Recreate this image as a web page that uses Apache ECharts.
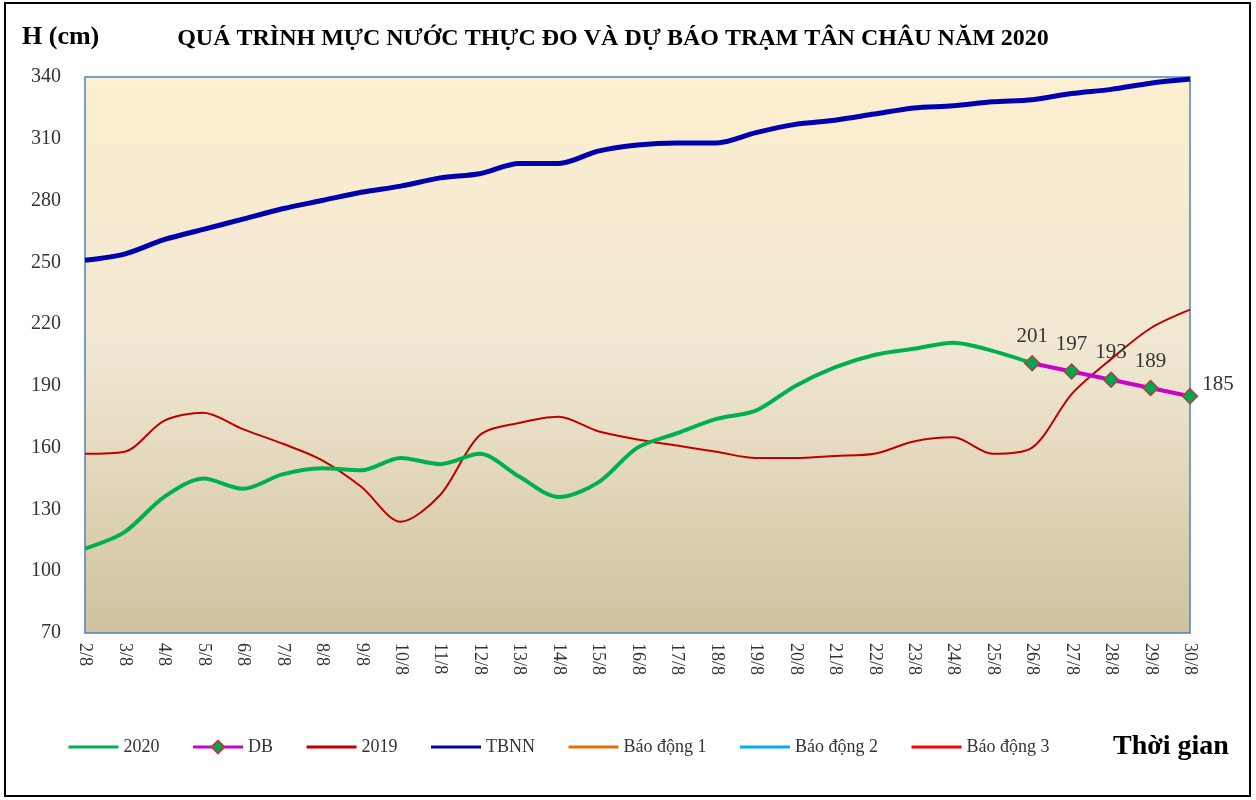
<!--
    Quá trình mực nước thực đo và dự báo trạm Tân Châu năm 2020
-->
<meta charset="UTF-8">
<script src="https://cdn.jsdelivr.net/npm/echarts@6/dist/echarts.min.js"></script>

<style>
    body { margin: 0; padding: 0; }
</style>

<div id="tanchau" style="width:1256px;height:800px;background-color:#ffffff;"></div>

<script>
    /*dữ liệu*/
    var days = ['2/8', '3/8', '4/8', '5/8', '6/8', '7/8', '8/8', '9/8', '10/8', '11/8', '12/8', '13/8', '14/8', '15/8',
        '16/8', '17/8', '18/8', '19/8', '20/8', '21/8', '22/8', '23/8', '24/8', '25/8', '26/8', '27/8', '28/8', '29/8', '30/8'];
    var h2020 = [111, 119, 136, 145, 140, 147, 150, 149, 155, 152, 157, 146, 136, 143, 160, 167, 174, 178, 190, 199, 205, 208, 211, 207, 201];
    var hDB = [null, null, null, null, null, null, null, null, null, null, null, null, null, null, null, null, null, null, null, null, null, null, null, null, 201, 197, 193, 189, 185];
    var h2019 = [157, 158, 173, 177, 169, 162, 154, 141, 124, 137, 166, 172, 175, 168, 164, 161, 158, 155, 155, 156, 157, 163, 165, 157, 160, 186, 203, 218, 227];
    var tbnn = [251, 254, 261, 266, 271, 276, 280, 284, 287, 291, 293, 298, 298, 304, 307, 308, 308, 313, 317, 319, 322, 325, 326, 328, 329, 332, 334, 337, 339];
    var bd1 = [];
    var bd2 = [];
    var bd3 = [];

    var serif = '"Liberation Serif", "DejaVu Serif", serif';

    var chart = function () {
        var tanchauChart = echarts.init(document.getElementById('tanchau'));

        /*nhãn DB: điểm cuối đặt bên phải*/
        var dbData = hDB.map(function (v, i) {
            if (i === hDB.length - 1) {
                return {value: v, label: {position: 'right', offset: [-4, -12]}};
            }
            return v;
        });

        /*chú giải: chỉ vẽ đường, ẩn ký hiệu*/
        var lineOnly = {opacity: 0};
        var legendLine = {width: 3};

        var option = {
            backgroundColor: '#ffffff',
            animation: false,
            title: {
                text: 'QUÁ TRÌNH MỰC NƯỚC THỰC ĐO VÀ DỰ BÁO TRẠM TÂN CHÂU NĂM 2020',
                left: 608,
                textAlign: 'center',
                top: 22,
                textStyle: {fontFamily: serif, fontSize: 24, fontWeight: 'bold', color: '#000000'}
            },
            graphic: [
                {
                    type: 'rect',
                    shape: {x: 5, y: 3, width: 1245, height: 793},
                    style: {fill: 'none', stroke: '#000000', lineWidth: 2},
                    silent: true
                },
                {
                    type: 'text',
                    left: 22,
                    top: 24,
                    style: {text: 'H (cm)', fontFamily: serif, fontSize: 26, fontWeight: 'bold', fill: '#000000'}
                },
                {
                    type: 'text',
                    left: 1113,
                    top: 733,
                    style: {text: 'Thời gian', fontFamily: serif, fontSize: 28, fontWeight: 'bold', fill: '#000000'}
                }
            ],
            legend: {
                left: 62,
                top: 733,
                itemWidth: 50,
                itemHeight: 16,
                itemGap: 32,
                textStyle: {fontFamily: serif, fontSize: 18, color: '#333333'},
                data: [
                    {name: '2020', itemStyle: lineOnly, lineStyle: legendLine},
                    {name: 'DB', lineStyle: legendLine},
                    {name: '2019', itemStyle: lineOnly, lineStyle: legendLine},
                    {name: 'TBNN', itemStyle: lineOnly, lineStyle: legendLine},
                    {name: 'Báo động 1', itemStyle: lineOnly, lineStyle: legendLine},
                    {name: 'Báo động 2', itemStyle: lineOnly, lineStyle: legendLine},
                    {name: 'Báo động 3', itemStyle: lineOnly, lineStyle: legendLine}
                ]
            },
            grid: {
                left: 85,
                right: 66,
                top: 77,
                bottom: 167,
                show: true,
                borderColor: '#4F81BD',
                borderWidth: 1.5,
                backgroundColor: new echarts.graphic.LinearGradient(0, 0, 0, 1, [
                    {offset: 0, color: '#FDEFD0'},
                    {offset: 0.5, color: '#F0E7D2'},
                    {offset: 1, color: '#D0C29E'}
                ])
            },
            xAxis: {
                type: 'category',
                boundaryGap: false,
                data: days,
                axisLine: {show: false},
                axisTick: {show: false},
                axisLabel: {
                    rotate: -90,
                    interval: 0,
                    margin: 10,
                    fontFamily: serif,
                    fontSize: 18,
                    color: '#333333'
                },
                splitLine: {show: false}
            },
            yAxis: {
                type: 'value',
                min: 70,
                max: 340,
                interval: 30,
                axisLine: {show: false},
                axisTick: {show: false},
                axisLabel: {margin: 24, fontFamily: serif, fontSize: 20, color: '#333333'},
                splitLine: {show: false}
            },
            series: [
                {
                    name: '2020',
                    type: 'line',
                    data: h2020,
                    smooth: 0.3,
                    symbol: 'none',
                    color: '#00B050',
                    lineStyle: {width: 4, color: '#00B050'},
                    z: 4
                },
                {
                    name: 'DB',
                    type: 'line',
                    data: dbData,
                    symbol: 'diamond',
                    symbolSize: 15,
                    showAllSymbol: true,
                    color: '#00A651',
                    itemStyle: {color: '#00A651', borderColor: '#B0403A', borderWidth: 1.5},
                    lineStyle: {width: 4, color: '#CC00CC'},
                    label: {
                        show: true,
                        position: 'top',
                        distance: 8,
                        fontFamily: serif,
                        fontSize: 21,
                        color: '#333333'
                    },
                    z: 5
                },
                {
                    name: '2019',
                    type: 'line',
                    data: h2019,
                    smooth: 0.3,
                    symbol: 'none',
                    color: '#C00000',
                    lineStyle: {width: 2, color: '#C00000'},
                    z: 3
                },
                {
                    name: 'TBNN',
                    type: 'line',
                    data: tbnn,
                    smooth: 0.3,
                    symbol: 'none',
                    color: '#0000B0',
                    lineStyle: {width: 5, color: '#0000B0'},
                    z: 3
                },
                {name: 'Báo động 1', type: 'line', data: bd1, symbol: 'none', color: '#E46C0A', lineStyle: {width: 3, color: '#E46C0A'}},
                {name: 'Báo động 2', type: 'line', data: bd2, symbol: 'none', color: '#00B0F0', lineStyle: {width: 3, color: '#00B0F0'}},
                {name: 'Báo động 3', type: 'line', data: bd3, symbol: 'none', color: '#FF0000', lineStyle: {width: 3, color: '#FF0000'}}
            ]
        };
        tanchauChart.setOption(option);

        window.addEventListener("resize", function () {
            tanchauChart.resize();
        });
    };

    chart();
</script>
